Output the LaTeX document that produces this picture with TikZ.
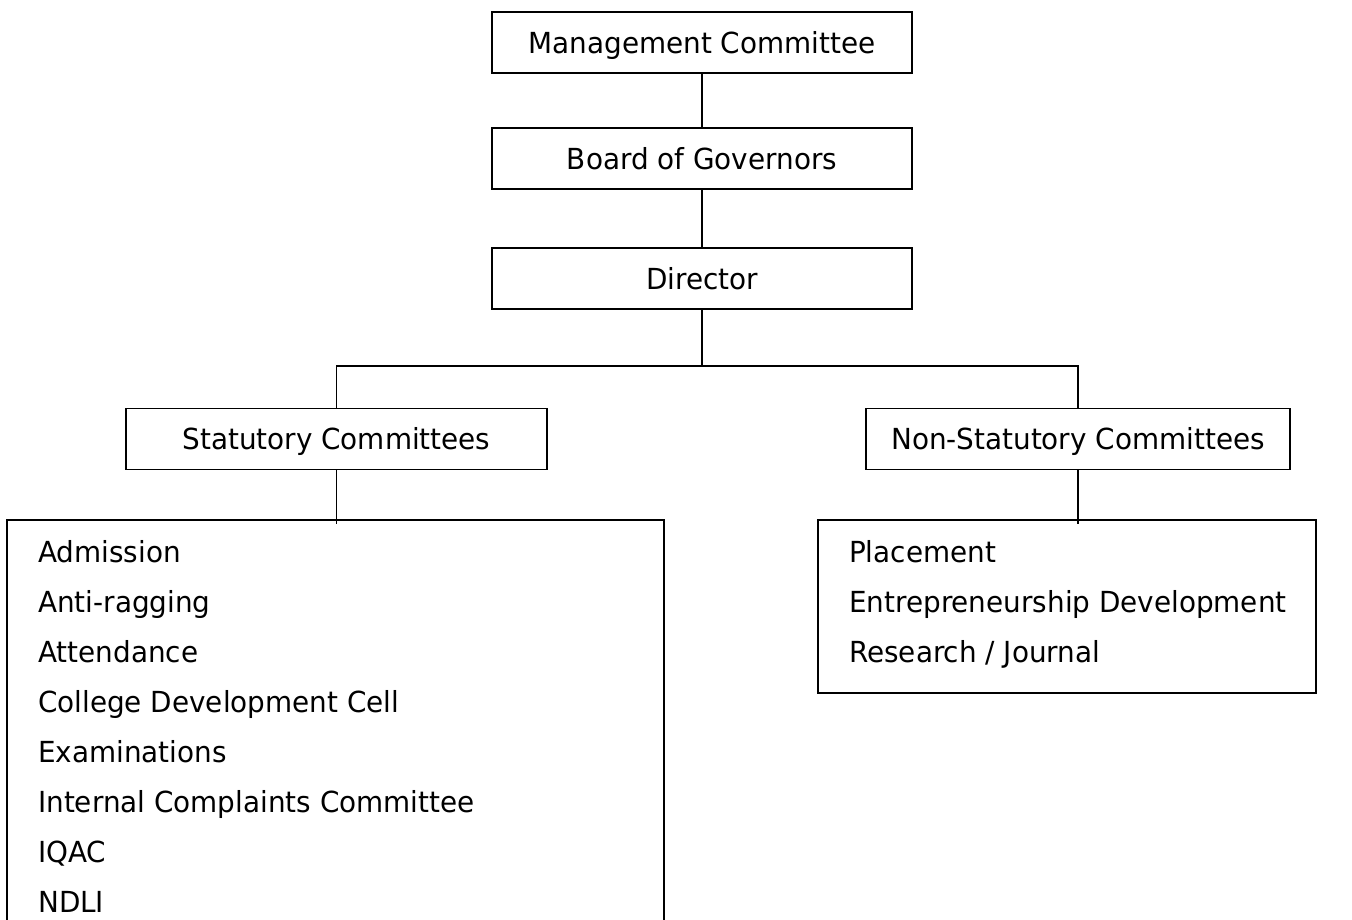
\documentclass[tikz,border=0pt]{standalone}
\usepackage{fontspec}
\setmainfont[FakeStretch=0.96]{DejaVu Sans}
\usetikzlibrary{positioning}

\tikzset{
  unitbox/.style={draw, line width=1.2pt, inner sep=0pt, minimum width=420pt,
    minimum height=61pt, text height=21pt, text depth=0pt,
    font=\fontsize{29}{34}\selectfont},
  listbox/.style={draw, line width=1.2pt},
  item/.style={anchor=base west, inner sep=0pt, font=\fontsize{29}{34}\selectfont},
  link/.style={line width=1.2pt}
}

\begin{document}
\begin{tikzpicture}[x=1pt,y=-1pt]
  \useasboundingbox (0,0) rectangle (1352,919);
  \clip (0,0) rectangle (1352,919);
  \node[unitbox] (mgmt) at (702,42.5) {Management Committee};
  \node[unitbox] (board) at (702,158.5) {Board of Governors};
  \node[unitbox] (dir) at (702,278.5) {Director};
  \node[unitbox, minimum width=421pt] (stat) at (336.5,439) {Statutory Committees};
  \node[unitbox, minimum width=424pt] (nonstat) at (1078,439) {Non-Statutory Committees};
  \draw[listbox] (7,940) rectangle (664,520);
  \coordinate (statlist) at (336.5,520);
  \draw[listbox] (818,693) rectangle (1316,520);
  \coordinate (nonstatlist) at (1078,520);
  \coordinate (split) at (702,366);

  \foreach \name [count=\i from 0] in {Admission, Anti-ragging, Attendance,
      College Development Cell, Examinations, Internal Complaints Committee, IQAC, NDLI}
    \node[item] (s\i) at (38,562+50*\i) {\name};
  \foreach \name [count=\i from 0] in {Placement, Entrepreneurship Development, Research / Journal}
    \node[item] (n\i) at (849,562+50*\i) {\name};

  \draw[link] (mgmt) -- (board);
  \draw[link] (board) -- (dir);
  \draw[link] (dir) -- (split);
  \draw[link] (stat.north) |- (split) -| (nonstat.north);
  \draw[link] (stat.south) -- ([yshift=-4pt]statlist);
  \draw[link] (nonstat.south) -- ([yshift=-4pt]nonstatlist);
\end{tikzpicture}
\end{document}
